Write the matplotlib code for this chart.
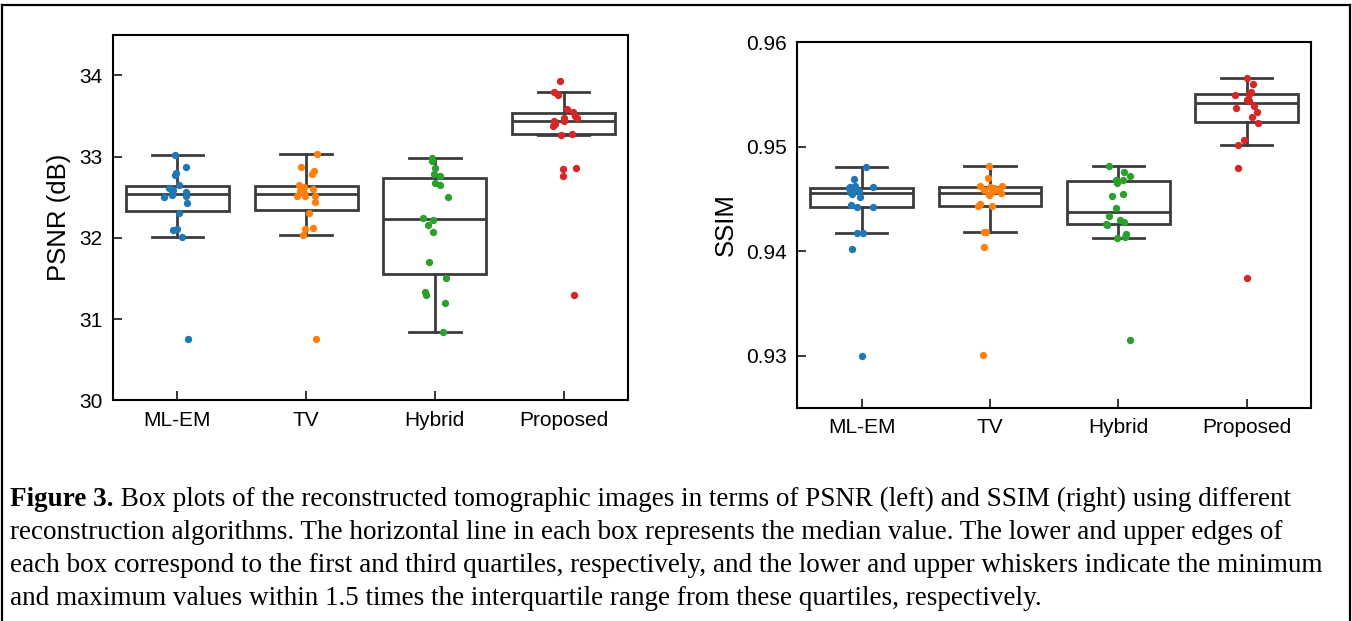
import numpy as np
import matplotlib
matplotlib.use("Agg")
import matplotlib.pyplot as plt
from matplotlib.lines import Line2D

# categories and colours
methods = ['ML-EM', 'TV', 'Hybrid', 'Proposed']
colors = ['#1f77b4', '#ff7f0e', '#2ca02c', '#d62728']

# PSNR values (dB)
psnr_mlem = [33.02, 32.87, 32.80, 32.77, 32.645, 32.61, 32.59, 32.57, 32.55,
             32.53, 32.50, 32.51, 32.43, 32.30, 32.11, 32.10, 32.01, 30.75]
psnr_tv = [33.035, 32.875, 32.82, 32.785, 32.65, 32.62, 32.60, 32.575, 32.55,
           32.52, 32.52, 32.52, 32.44, 32.31, 32.11, 32.115, 32.03, 30.76]
psnr_hybrid = [32.98, 32.945, 32.855, 32.79, 32.765, 32.67, 32.645, 32.505, 32.25,
               32.215, 32.155, 32.07, 31.70, 31.51, 31.33, 31.29, 31.20, 30.835]
psnr_proposed = [33.93, 33.79, 33.755, 33.59, 33.545, 33.50, 33.475, 33.48, 33.44,
                 33.44, 33.405, 33.38, 33.27, 33.28, 32.85, 32.855, 32.765, 31.29]

# SSIM values
ssim_mlem = [0.94802, 0.94690, 0.94610, 0.94616, 0.94622, 0.94600, 0.94590, 0.94571, 0.94570,
             0.94546, 0.94520, 0.94446, 0.94418, 0.94424, 0.94174, 0.94174, 0.94024, 0.92994]
ssim_tv = [0.94811, 0.94699, 0.94626, 0.94590, 0.94616, 0.94603, 0.94622, 0.94584, 0.94570,
           0.94552, 0.94533, 0.94450, 0.94434, 0.94430, 0.94187, 0.94187, 0.94037, 0.93006]
ssim_hybrid = [0.94814, 0.94757, 0.94722, 0.94683, 0.94680, 0.94651, 0.94549, 0.94526, 0.94411,
               0.94338, 0.94296, 0.94283, 0.94258, 0.94254, 0.94165, 0.94133, 0.94123, 0.93144]
ssim_proposed = [0.95656, 0.95602, 0.95528, 0.95518, 0.95505, 0.95499, 0.95448, 0.95442, 0.95460,
                 0.95390, 0.95371, 0.95336, 0.95288, 0.95224, 0.95064, 0.95016, 0.94798, 0.93742]

# horizontal strip jitter of each point (category units)
psnr_jitter = [
    [-0.021, 0.065, -0.008, -0.016, 0.016, -0.068, -0.034, 0.068, -0.044,
     -0.044, -0.102, 0.070, 0.076, 0.013, 0.0, -0.036, 0.034, 0.086],
    [0.083, -0.039, 0.063, 0.049, -0.055, -0.018, 0.055, -0.047, -0.013,
     -0.070, -0.010, 0.068, 0.070, 0.026, -0.005, 0.055, -0.023, 0.078],
    [-0.021, -0.021, 0.0, -0.008, 0.036, 0.003, 0.036, 0.099, -0.096,
     -0.016, -0.055, -0.018, -0.049, 0.083, -0.073, -0.068, 0.081, 0.065],
    [-0.029, -0.073, -0.042, 0.023, 0.076, 0.091, 0.104, 0.005, 0.003,
     -0.073, -0.065, -0.081, -0.021, 0.068, -0.005, 0.094, -0.005, 0.078],
]
ssim_jitter = [
    [0.036, -0.062, 0.091, -0.086, -0.049, -0.096, -0.073, -0.021, -0.091,
     -0.075, -0.010, -0.083, -0.039, 0.091, -0.034, 0.013, -0.075, 0.0],
    [-0.008, -0.016, -0.081, -0.044, -0.003, 0.031, 0.094, 0.065, 0.013,
     0.083, -0.005, -0.078, -0.091, 0.016, -0.044, -0.034, -0.044, -0.055],
    [-0.075, 0.042, 0.094, -0.016, 0.036, -0.008, 0.039, -0.052, -0.016,
     -0.075, 0.016, 0.042, -0.099, -0.086, 0.062, 0.055, -0.013, 0.094],
    [0.005, 0.047, 0.036, 0.023, 0.018, -0.094, 0.0, 0.018, 0.010,
     0.055, -0.081, 0.078, 0.039, 0.086, -0.021, -0.065, -0.065, 0.005],
]

psnr = [psnr_mlem, psnr_tv, psnr_hybrid, psnr_proposed]
ssim = [ssim_mlem, ssim_tv, ssim_hybrid, ssim_proposed]

W, H = 1352, 621
gray = '#3c3c3c'
sans = ['Liberation Sans', 'DejaVu Sans']
serif = ['Liberation Serif', 'DejaVu Serif']

fig = plt.figure(figsize=(W / 100, H / 100), dpi=100)
ax1 = fig.add_axes([113 / W, 1 - 400.3 / H, 515 / W, 365.6 / H])
ax2 = fig.add_axes([797.3 / W, 1 - 407.7 / H, 513.7 / W, 365.4 / H])


def draw_panel(ax, groups, jitter, ylim, yticks, ylabel, fmt):
    lw = 2.0
    ax.boxplot(groups, positions=range(len(groups)), widths=0.8, capwidths=0.4,
               whis=1.5, showfliers=False, patch_artist=True,
               boxprops=dict(facecolor='white', edgecolor=gray, linewidth=lw),
               whiskerprops=dict(color=gray, linewidth=lw),
               capprops=dict(color=gray, linewidth=lw),
               medianprops=dict(color=gray, linewidth=lw), zorder=2)
    for i, (vals, jit) in enumerate(zip(groups, jitter)):
        ax.scatter(i + np.array(jit), vals, s=28, color=colors[i],
                   linewidths=0, zorder=3)
    ax.set_xlim(-0.5, len(groups) - 0.5)
    ax.set_ylim(*ylim)
    ax.set_yticks(yticks)
    ax.set_yticklabels([fmt.format(t) for t in yticks], family=sans, fontsize=15)
    ax.set_xticks(range(len(groups)))
    ax.set_xticklabels(methods, family=sans, fontsize=15)
    ax.tick_params(direction='in', length=6.5, width=1.1, pad=7.5)
    ax.set_ylabel(ylabel, family=sans, fontsize=18.5, labelpad=6)
    for sp in ax.spines.values():
        sp.set_linewidth(1.5)


draw_panel(ax1, psnr, psnr_jitter, (30, 34.5), [30, 31, 32, 33, 34], 'PSNR (dB)', '{:.0f}')
draw_panel(ax2, ssim, ssim_jitter, (0.925, 0.96), [0.93, 0.94, 0.95, 0.96], 'SSIM', '{:.2f}')

# frame around the figure
for xs, ys in [((2, 2), (0, 5)), ((2, 1350), (5, 5)), ((1350, 1350), (5, 0))]:
    fig.add_artist(Line2D([x / W for x in xs], [1 - y / H if y else -0.01 for y in ys],
                          transform=fig.transFigure, color='black', lw=1.6))

# caption
cap_size = 19.55
lines = [
    " Box plots of the reconstructed tomographic images in terms of PSNR (left) and SSIM (right) using different",
    "reconstruction algorithms. The horizontal line in each box represents the median value. The lower and upper edges of",
    "each box correspond to the first and third quartiles, respectively, and the lower and upper whiskers indicate the minimum",
    "and maximum values within 1.5 times the interquartile range from these quartiles, respectively.",
]
baselines = [506, 539, 572, 605]
x0 = 10 / W
bold = fig.text(x0, 1 - baselines[0] / H, 'Figure 3.', family=serif, fontweight='bold',
                fontsize=cap_size, va='baseline')
renderer = fig.canvas.get_renderer()
bb = bold.get_window_extent(renderer)
fig.text(bb.x1 / W, 1 - baselines[0] / H, lines[0], family=serif, fontsize=cap_size, va='baseline')
for txt, yb in zip(lines[1:], baselines[1:]):
    fig.text(x0, 1 - yb / H, txt, family=serif, fontsize=cap_size, va='baseline')

fig.savefig('out.png', dpi=100)
